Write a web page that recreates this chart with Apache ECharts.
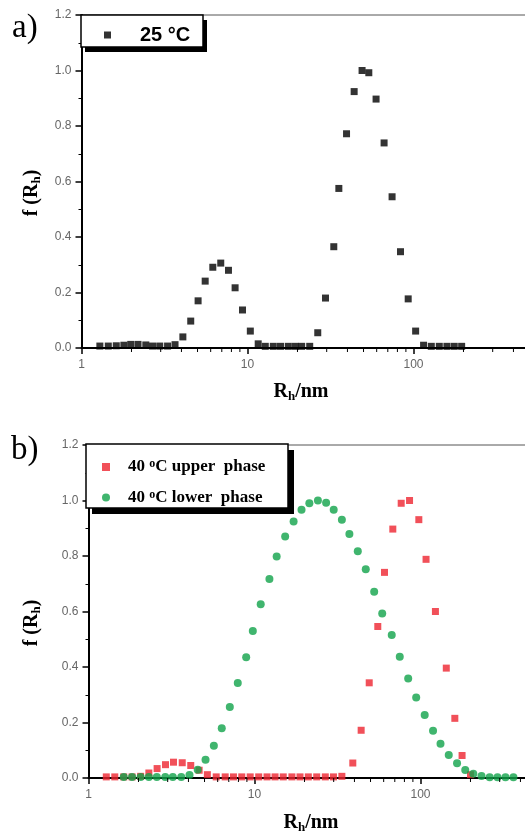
<!DOCTYPE html>
<html>
<head>
<meta charset="utf-8">
<script src="https://cdn.jsdelivr.net/npm/echarts@6/dist/echarts.min.js"></script>
<style>
  html, body { margin: 0; padding: 0; background: #fff; }
  #chart { width: 525px; height: 833px; }
</style>
</head>
<body>
<div id="chart"></div>
<script>
// Hydrodynamic radius distributions f(Rh) measured by DLS.

// a) 25 °C
const RH_25 = [1.29, 1.45, 1.62, 1.80, 1.98, 2.19, 2.44, 2.68, 2.96, 3.30,
  3.66, 4.08, 4.55, 5.04, 5.56, 6.18, 6.90, 7.68, 8.42, 9.33,
  10.4, 11.6, 12.8, 14.3, 15.8, 17.6, 19.4, 21.2, 23.7, 26.5,
  29.5, 33.1, 35.5, 39.5, 43.9, 49.0, 53.8, 59.5, 66.5, 74.3,
  83.5, 92.9, 103, 115, 128, 143, 159, 176, 195];
const F_25 = [0.007, 0.007, 0.008, 0.010, 0.013, 0.013, 0.011, 0.007, 0.007, 0.007,
  0.012, 0.040, 0.097, 0.170, 0.241, 0.291, 0.306, 0.280, 0.217, 0.137,
  0.061, 0.015, 0.006, 0.006, 0.006, 0.006, 0.006, 0.006, 0.006, 0.055,
  0.180, 0.365, 0.575, 0.772, 0.924, 1.000, 0.992, 0.897, 0.739, 0.545,
  0.347, 0.177, 0.061, 0.010, 0.006, 0.006, 0.006, 0.006, 0.006];

// b) 40 °C, upper phase
const RH_UPPER = [1.28, 1.44, 1.63, 1.83, 2.06, 2.31, 2.59, 2.91, 3.25, 3.67,
  4.13, 4.64, 5.20, 5.88, 6.66, 7.47, 8.38, 9.42, 10.6, 11.9,
  13.3, 14.9, 16.8, 18.8, 21.1, 23.7, 26.7, 29.9, 33.6, 39.1,
  43.9, 49.1, 55.3, 60.7, 68.1, 76.5, 85.9, 97.7, 108, 123,
  143, 161, 178, 200];
const F_UPPER = [0.004, 0.004, 0.004, 0.004, 0.006, 0.018, 0.034, 0.048, 0.057, 0.055,
  0.045, 0.028, 0.012, 0.004, 0.004, 0.004, 0.004, 0.004, 0.004, 0.004,
  0.004, 0.004, 0.004, 0.004, 0.004, 0.004, 0.004, 0.004, 0.006, 0.054,
  0.172, 0.343, 0.546, 0.741, 0.897, 0.990, 1.000, 0.931, 0.788, 0.600,
  0.396, 0.215, 0.081, 0.012];

// b) 40 °C, lower phase
const RH_LOWER = [1.63, 1.83, 2.06, 2.31, 2.58, 2.90, 3.22, 3.62, 4.06, 4.55,
  5.07, 5.69, 6.35, 7.10, 7.93, 8.91, 9.77, 10.9, 12.3, 13.6,
  15.3, 17.2, 19.2, 21.4, 24.1, 27.0, 30.0, 33.6, 37.3, 41.9,
  46.8, 52.6, 58.8, 67.1, 75.0, 84.3, 94.2, 106, 119, 132,
  148, 166, 186, 208, 233, 261, 291, 325, 363];
const F_LOWER = [0.004, 0.004, 0.004, 0.004, 0.004, 0.004, 0.004, 0.004, 0.011, 0.030,
  0.066, 0.116, 0.179, 0.256, 0.342, 0.435, 0.530, 0.626, 0.717, 0.798,
  0.870, 0.924, 0.967, 0.990, 1.000, 0.992, 0.967, 0.931, 0.879, 0.817,
  0.752, 0.671, 0.593, 0.515, 0.437, 0.359, 0.290, 0.227, 0.170, 0.123,
  0.083, 0.053, 0.029, 0.015, 0.007, 0.003, 0.003, 0.003, 0.003];

const NAME_25 = '25 °C';
const NAME_UPPER = '40 °C upper  phase';
const NAME_LOWER = '40 °C lower  phase';

// log-axis minor ticks at 2..9 of each decade
const MINOR_DECADES = [1, 10, 100];
const MINOR_STEPS = [2, 3, 4, 5, 6, 7, 8, 9];

const SERIF = '"Liberation Serif", "Times New Roman", serif';
const SANS = '"Liberation Sans", Arial, sans-serif';

const pairs = (xs, ys) => xs.map((x, i) => [x, ys[i]]);
const minorTicks = [];
MINOR_DECADES.forEach(d => MINOR_STEPS.forEach(m => minorTicks.push([d * m, 0])));

function makeGrid(left, top) {
  return { left, top, width: 498, height: 333, show: true, containLabel: false,
    outerBoundsMode: 'none',
    borderColor: '#555', borderWidth: 1, backgroundColor: 'transparent' };
}
function makeXAxis(gridIndex) {
  return {
    type: 'log', logBase: 10, gridIndex, min: 1, max: 1000,
    axisLine: { show: true, onZero: false, lineStyle: { color: '#000', width: 2 } },
    axisTick: { show: true, length: 6, lineStyle: { color: '#000', width: 1.5 } },
    axisLabel: { color: '#666', fontSize: 12, fontFamily: SANS, margin: 11 },
    splitLine: { show: false }
  };
}
function makeYAxis(gridIndex) {
  return {
    type: 'value', gridIndex, min: 0, max: 1.2, interval: 0.2,
    axisLine: { show: true, onZero: false, lineStyle: { color: '#000', width: 2 } },
    axisTick: { show: true, length: 6, lineStyle: { color: '#000', width: 1.5 } },
    minorTick: { show: true, splitNumber: 2, length: 3, lineStyle: { color: '#000', width: 1 } },
    axisLabel: { color: '#666', fontSize: 12, fontFamily: SANS, margin: 10,
      formatter: v => v.toFixed(1) },
    splitLine: { show: false }
  };
}
function minorTickSeries(i) {
  return {
    type: 'custom', xAxisIndex: i, yAxisIndex: i, data: minorTicks,
    silent: true, clip: false, z: 3,
    renderItem: (params, api) => {
      const p = api.coord([api.value(0), 0]);
      return { type: 'line', shape: { x1: p[0], y1: p[1], x2: p[0], y2: p[1] + 4 },
        style: { stroke: '#000', lineWidth: 1 } };
    }
  };
}
function axisTitle(x, y, text, rotation) {
  return {
    type: 'text', x, y, rotation: rotation || 0, z: 10,
    style: {
      text, align: 'center', verticalAlign: 'middle', fill: '#000',
      rich: {
        m: { fontFamily: SERIF, fontSize: 20, fontWeight: 'bold', lineHeight: 22, fill: '#000' },
        s: { fontFamily: SERIF, fontSize: 13, fontWeight: 'bold', lineHeight: 12, verticalAlign: 'bottom', fill: '#000' }
      }
    }
  };
}
function panelTag(x, y, text) {
  return { type: 'text', x, y, z: 10,
    style: { text, align: 'left', verticalAlign: 'middle', fill: '#000',
      fontFamily: SERIF, fontSize: 33 } };
}
// legend frame: white box with a solid offset shadow
function legendFrame(x, y, w, h, dx, dy) {
  return [
    { type: 'rect', z: 1, shape: { x: x + dx, y: y + dy, width: w, height: h },
      style: { fill: '#000' } },
    { type: 'rect', z: 2, shape: { x, y, width: w, height: h },
      style: { fill: '#fff', stroke: '#000', lineWidth: 1.5 } }
  ];
}

const chart = echarts.init(document.getElementById('chart'), null, { renderer: 'canvas' });

chart.setOption({
  animation: false,
  backgroundColor: '#fff',
  grid: [makeGrid(81.5, 15), makeGrid(88.5, 445)],
  xAxis: [makeXAxis(0), makeXAxis(1)],
  yAxis: [makeYAxis(0), makeYAxis(1)],
  legend: [
    {
      data: [NAME_25], left: 81, top: 15, orient: 'vertical', z: 20,
      padding: [10, 13, 2, 23], itemWidth: 7, itemHeight: 7, selectedMode: false,
      formatter: name => '{t|' + name + '}',
      textStyle: { rich: { t: { fontFamily: SANS, fontSize: 20, fontWeight: 'bold',
        color: '#000', lineHeight: 20, padding: [0, 0, 0, 24] } } }
    },
    {
      data: [NAME_UPPER, NAME_LOWER], left: 86, top: 444, orient: 'vertical', z: 20,
      itemGap: 13, padding: [14, 22, 1, 16], itemWidth: 8, itemHeight: 8, selectedMode: false,
      formatter: name => {
        const parts = name.split(' °');
        return '{a|' + parts[0] + ' }{o|o}{b|' + parts[1] + '}';
      },
      textStyle: { rich: {
        a: { fontFamily: SERIF, fontSize: 17, fontWeight: 'bold', color: '#000', lineHeight: 18, padding: [0, 0, 0, 13] },
        o: { fontFamily: SERIF, fontSize: 12, fontWeight: 'bold', color: '#000', lineHeight: 10, verticalAlign: 'top' },
        b: { fontFamily: SERIF, fontSize: 17, fontWeight: 'bold', color: '#000', lineHeight: 18 }
      } }
    }
  ],
  graphic: [
    ...legendFrame(81, 15, 122, 32, 4, 5),
    ...legendFrame(86, 444, 202, 64, 6, 6),
    panelTag(12, 28, 'a)'),
    panelTag(11, 450, 'b)'),
    axisTitle(301, 392, '{m|R}{s|h}{m|/nm}'),
    axisTitle(311, 823, '{m|R}{s|h}{m|/nm}'),
    axisTitle(32, 193, '{m|f (R}{s|h}{m|)}', Math.PI / 2),
    axisTitle(32, 623, '{m|f (R}{s|h}{m|)}', Math.PI / 2)
  ],
  series: [
    minorTickSeries(0),
    minorTickSeries(1),
    { name: NAME_25, type: 'scatter', xAxisIndex: 0, yAxisIndex: 0,
      symbol: 'rect', symbolSize: 7, itemStyle: { color: '#000' },
      data: pairs(RH_25, F_25) },
    { name: NAME_UPPER, type: 'scatter', xAxisIndex: 1, yAxisIndex: 1,
      symbol: 'rect', symbolSize: 7, itemStyle: { color: '#ee2430' },
      data: pairs(RH_UPPER, F_UPPER) },
    { name: NAME_LOWER, type: 'scatter', xAxisIndex: 1, yAxisIndex: 1,
      symbol: 'circle', symbolSize: 8, itemStyle: { color: '#10a24a' },
      data: pairs(RH_LOWER, F_LOWER) }
  ]
});
</script>
</body>
</html>
